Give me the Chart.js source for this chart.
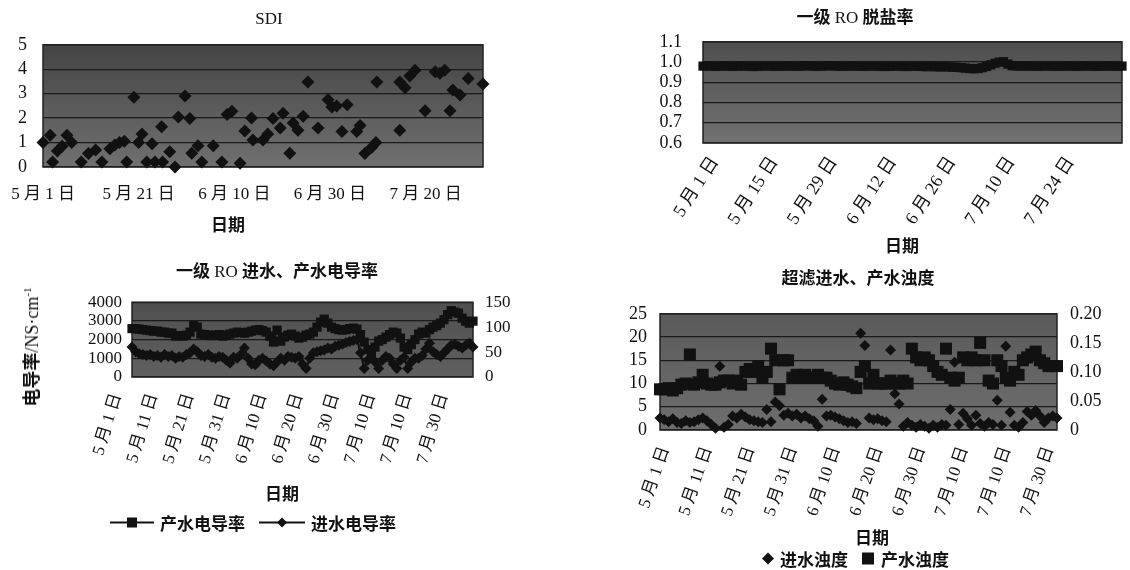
<!DOCTYPE html>
<html><head><meta charset="utf-8">
<script src="https://cdn.jsdelivr.net/npm/chart.js@4/dist/chart.umd.min.js"></script>
<style>
body{margin:0;background:#fff;width:1130px;height:570px;position:relative;overflow:hidden;font-family:'Liberation Serif','Noto Sans CJK SC',serif;color:#111}
canvas{position:absolute}
.t{position:absolute;transform:translate(-50%,-50%);white-space:nowrap;font-size:17px;line-height:1}
.c{font-family:'Noto Sans CJK SC',sans-serif;font-weight:bold}
.lg{position:absolute;display:flex;align-items:center;white-space:nowrap;font-size:17px;transform:translateY(-50%)}
.lg svg{margin-right:6px}
</style></head><body>
<canvas id="c1" width="500" height="200" style="left:0;top:18px"></canvas>
<canvas id="c2" width="530" height="240" style="left:600px;top:10px"></canvas>
<canvas id="c3" width="540" height="200" style="left:0;top:280px"></canvas>
<canvas id="c4" width="530" height="235" style="left:600px;top:290px"></canvas>

<div class="t" style="left:269px;top:18px">SDI</div>
<div class="t" style="left:228px;top:224px"><span class="c">日期</span></div>
<div class="t" style="left:855px;top:16px"><span class="c">一级</span> RO <span class="c">脱盐率</span></div>
<div class="t" style="left:902px;top:245px"><span class="c">日期</span></div>
<div class="t" style="left:277px;top:270px"><span class="c">一级</span> RO <span class="c">进水、产水电导率</span></div>
<div class="t" style="left:282px;top:493px"><span class="c">日期</span></div>
<div class="t" style="left:31px;top:347px;font-size:18px;transform:translate(-50%,-50%) rotate(-90deg)"><span class="c">电导率</span>/NS·cm<sup style="font-size:11px">-1</sup></div>
<div class="t" style="left:858px;top:277px"><span class="c">超滤进水、产水浊度</span></div>
<div class="t" style="left:872px;top:537px"><span class="c">日期</span></div>

<div class="lg" style="left:110px;top:522px">
<svg width="44" height="14"><line x1="0" y1="7" x2="44" y2="7" stroke="#111" stroke-width="2"/><rect x="17" y="2" width="10" height="10" fill="#111"/></svg>
<span class="c">产水电导率</span>
<svg width="46" height="14" style="margin-left:14px"><line x1="0" y1="7" x2="46" y2="7" stroke="#111" stroke-width="2"/><polygon points="23,2 28,7 23,12 18,7" fill="#111"/></svg>
<span class="c">进水电导率</span>
</div>
<div class="lg" style="left:762px;top:558px">
<svg width="12" height="14"><polygon points="6,1 12,7 6,13 0,7" fill="#111"/></svg>
<span class="c">进水浊度</span>
<svg width="13" height="14" style="margin-left:14px"><rect x="0" y="1" width="12" height="12" fill="#111"/></svg>
<span class="c">产水浊度</span>
</div>

<script>
// ---------- SDI ----------
const sdiTickLabels = ['5 月 1 日','5 月 21 日','6 月 10 日','6 月 30 日','7 月 20 日'];
const sdiDays = [0,1.5,2,3,4,5,6,8,9.5,11,12.3,14,15,16,17,17.5,19,20,20.7,21.7,22.8,23.4,24.8,25,26.5,27.6,28.3,29.7,30.7,31.1,32.4,33.2,35.6,37.4,38.5,39.5,41.2,42.2,43.6,43.9,46,47,48.1,49.6,50.2,51.6,52.3,53.3,54.4,55.4,57.5,59.6,60.4,61.4,62.5,63.6,65.6,66.3,67.3,68.7,69.6,69.8,74.6,74.6,75.7,76.7,77.8,79.9,82,83,84,85.1,85.7,87.2,88.9,92];
const sdiValues = [1.0,1.3,0.2,0.65,0.85,1.3,1.0,0.2,0.55,0.7,0.2,0.75,0.9,1.0,1.05,0.2,2.85,1.0,1.35,0.2,0.95,0.2,1.65,0.2,0.62,0.0,2.05,2.9,1.98,0.56,0.87,0.2,0.87,0.2,2.15,2.28,0.15,1.47,2.0,1.1,1.1,1.35,1.98,1.6,2.2,0.56,1.8,1.5,2.08,3.48,1.6,2.75,2.45,2.5,1.45,2.55,1.45,1.7,0.55,0.8,1.0,3.48,1.5,3.48,3.24,3.72,3.96,2.3,3.9,3.84,3.96,2.3,3.15,2.95,3.62,3.4];

// ---------- RO salt rejection ----------
const rejTickLabels = ['5 月 1 日','5 月 15 日','5 月 29 日','6 月 12 日','6 月 26 日','7 月 10 日','7 月 24 日'];
const rejectionRate = [
0.98,0.981,0.98,0.979,0.98,0.981,0.98,0.979,0.98,0.981,
0.98,0.979,0.978,0.979,0.98,0.981,0.98,0.979,0.98,0.98,
0.981,0.98,0.979,0.98,0.982,0.981,0.98,0.979,0.98,0.981,
0.982,0.981,0.98,0.979,0.98,0.981,0.98,0.98,0.979,0.98,
0.981,0.98,0.979,0.978,0.979,0.98,0.98,0.979,0.978,0.979,
0.98,0.979,0.978,0.977,0.978,0.977,0.976,0.977,0.976,0.975,
0.974,0.972,0.97,0.968,0.967,0.968,0.972,0.978,0.986,0.994,
1.0,1.002,0.99,0.982,0.981,0.98,0.981,0.98,0.98,0.979,
0.98,0.981,0.98,0.98,0.979,0.98,0.981,0.98,0.979,0.98,
0.98,0.981,0.98,0.979,0.98,0.98,0.981,0.98,0.979,0.98];

// ---------- RO conductivity ----------
const condTickLabels = ['5 月 1 日','5 月 11 日','5 月 21 日','5 月 31 日','6 月 10 日','6 月 20 日','6 月 30 日','7 月 10 日','7 月 10 日','7 月 30 日'];
const permeateConductivity = [97,97,96, 95,94,93,92,92,90,90,88,88, 82,83,82,84, 90,103,100, 86,85,84,83,84,85,82,84,86, 88,90,89,88,90,92,94, 95,93,90,82, 70,94,72, 80,84,86,82, 78,80,84,86,90, 100,110,116,108, 100,97,95,94,95,97,98,96, 85,70, 55,48,60, 72,75,80,85, 90,88,78, 60,55,65,75, 86,90,88, 95,100,103,108, 115,125,133,130, 128,118,112,108,112];
const feedConductivity = [1600, 1350,1250,1200,1150,1200, 1100,1150,1050,1200,1100,1150, 1000,1100,1050,1200, 1300,1500,1350, 1150,1100,1200,1050,1000,1100,1050, 900,750,1050,1000,1200, 1550,1000,700,650, 900,1000,850,700,600,800, 1000,900,1100,1050,1000,1100, 700,450,1000, 1300,1350,1400,1450,1550,1500,1650, 1700,1750,1850,1900,1950,2000, 1300,450,900,1000,800,450,900,1100,1000,700,450,900,1050,450,800,1000,1000,1150, 1500,1800,1350,1200,1100, 1300,1500,1700,1750,1650, 1550,1700,1800,1600];

// ---------- UF turbidity ----------
const turbTickLabels = ['5 月 1 日','5 月 11 日','5 月 21 日','5 月 31 日','6 月 10 日','6 月 20 日','6 月 30 日','7 月 10 日','7 月 10 日','7 月 30 日'];
const feedTurbidity = [2.6,2.2,1.8,2.4,1.6,1.4,2.0,1.6,1.8,2.2,2.6,2.0,1.2, 0.4,13.7,0.6,1.2, 3.0,2.6,3.4,2.8,2.2,2.0,1.8,1.6, 4.4,1.8,6.0,5.2,3.2,3.6,3.0,3.4,2.6,3.0,2.4,2.0,0.8,6.6, 3.0,3.2,2.8,2.4,2.0,1.6,1.8,1.4, 20.8,18.2,2.6,2.2,2.4,2.0,1.8,17.2,7.8,5.6, 0.8,1.6,1.0,0.6,1.2,0.8,0.4,1.0,0.6,1.2,1.0, 4.4,14.6, 1.2,3.6,2.4,1.0,3.2,1.4,0.8,1.6,1.2, 6.4,1.0,18.0,3.8,1.0,0.6,1.6, 4.0,3.2,4.2,3.0,1.6,2.6,3.0,2.6];
const permeateTurbidity = [0.07,0.07,0.072,0.068,0.072,0.078, 0.08,0.13,0.078,0.082,0.095,0.08,0.078,0.078, 0.082,0.085,0.085,0.08,0.085,0.078, 0.1,0.105,0.1,0.11,0.09,0.1,0.14,0.12,0.07,0.12,0.12, 0.09,0.095,0.09,0.095,0.09,0.09,0.095,0.09,0.09,0.085, 0.08,0.078,0.082,0.078,0.075,0.072, 0.1,0.11,0.08,0.095,0.08,0.08, 0.08,0.085,0.08,0.08,0.085,0.08, 0.14,0.125,0.12,0.125,0.12,0.11,0.1,0.095, 0.14,0.09,0.085,0.09,0.125,0.12,0.125,0.12, 0.15,0.12,0.085,0.08,0.12,0.11, 0.09,0.085,0.1,0.095, 0.12,0.125,0.13,0.135,0.12,0.115,0.11,0.11,0.11];

const FONT = "'Liberation Serif','Noto Sans CJK SC',serif";
const INK = '#111';

const frameBg = {
  id: 'frameBg',
  beforeDraw(chart, args, opts) {
    const {ctx, chartArea: a} = chart;
    const g = ctx.createLinearGradient(0, a.top, 0, a.bottom);
    g.addColorStop(0, opts.top); g.addColorStop(1, opts.bottom);
    ctx.save();
    ctx.fillStyle = g;
    ctx.fillRect(a.left, a.top, a.right - a.left, a.bottom - a.top);
    ctx.restore();
  },
  beforeDatasetsDraw(chart) {
    const {ctx, chartArea: a} = chart;
    ctx.save();
    ctx.strokeStyle = '#222'; ctx.lineWidth = 1.5;
    ctx.strokeRect(a.left, a.top, a.right - a.left, a.bottom - a.top);
    ctx.restore();
  }
};

function baseOpts(pad, bg) {
  return {
    responsive: false, animation: false, events: [],
    layout: {padding: pad},
    plugins: {legend: {display: false}, tooltip: {enabled: false}, frameBg: bg},
  };
}
function xAxis(max, step, labels, h, rot, pad, off, size) {
  return {
    type: 'linear', min: 0, max: max,
    afterFit: s => { s.height = h; },
    grid: {display: false}, border: {display: false},
    ticks: {stepSize: step, includeBounds: false, autoSkip: false, minRotation: rot, maxRotation: rot,
      padding: pad, labelOffset: off, color: INK, font: {family: FONT, size: size},
      callback: v => labels[Math.round(v / step)] }
  };
}
function yAxis(min, max, step, w, pad, size, pos, grid, fmt) {
  return {
    type: 'linear', min: min, max: max, position: pos,
    afterFit: s => { s.width = w; },
    grid: grid ? {color: '#1a1a1a', lineWidth: 1.3, drawTicks: false} : {display: false, drawTicks: false},
    border: {display: false},
    ticks: {stepSize: step, autoSkip: false, padding: pad, color: INK, font: {family: FONT, size: size},
      callback: fmt || (v => String(Math.round(v)))}
  };
}

// Chart 1: SDI
new Chart(document.getElementById('c1'), {
  type: 'scatter',
  data: {datasets: [{label: 'SDI', data: sdiDays.map((d, i) => ({x: d, y: sdiValues[i]})),
    pointStyle: 'rectRot', pointRadius: 6.5, backgroundColor: INK, borderColor: INK, borderWidth: 0, clip: false}]},
  options: Object.assign(baseOpts({top: 12, right: 17, left: 0, bottom: 0}, {top: '#444', bottom: '#707070'}), {
    scales: {
      x: xAxis(92, 20, sdiTickLabels, 51, 0, 9, 0, 17),
      y: yAxis(0, 5, 1, 43, 16, 18, 'left', true)
    }
  }),
  plugins: [frameBg]
});

// Chart 2: RO salt rejection
new Chart(document.getElementById('c2'), {
  type: 'line',
  data: {datasets: [{label: '一级RO脱盐率', data: rejectionRate.map((v, i) => ({x: i, y: v})),
    borderColor: INK, borderWidth: 7, pointStyle: 'rect', pointRadius: 6.5, pointBackgroundColor: INK,
    pointBorderWidth: 0, tension: 0, clip: false}]},
  options: Object.assign(baseOpts({top: 22, right: 8, left: 0, bottom: 0}, {top: '#4e4e4e', bottom: '#727272'}), {
    scales: {
      x: xAxis(99, 14, rejTickLabels, 107, 57, 2, 12, 18),
      y: yAxis(0.6, 1.1, 0.1, 103, 21, 18, 'left', true, v => v.toFixed(1))
    }
  }),
  plugins: [frameBg]
});

// Chart 3: RO conductivity
new Chart(document.getElementById('c3'), {
  type: 'line',
  data: {datasets: [
    {label: '产水电导率', yAxisID: 'y1', data: permeateConductivity.map((v, i) => ({x: i, y: v})),
      borderColor: INK, borderWidth: 2, pointStyle: 'rect', pointRadius: 6.5, pointBackgroundColor: INK,
      pointBorderWidth: 0, tension: 0, clip: false},
    {label: '进水电导率', yAxisID: 'y', data: feedConductivity.map((v, i) => ({x: i, y: v})),
      borderColor: INK, borderWidth: 2, pointStyle: 'rectRot', pointRadius: 5.5, pointBackgroundColor: INK,
      pointBorderWidth: 0, tension: 0, clip: false}
  ]},
  options: Object.assign(baseOpts({top: 17, right: 0, left: 0, bottom: 0}, {top: '#4f4f4f', bottom: '#606060'}), {
    scales: {
      x: xAxis(94, 10, condTickLabels, 103, 73, 6, -15, 17),
      y: yAxis(0, 4000, 1000, 132, 10, 17, 'left', true),
      y1: yAxis(0, 150, 50, 67, 12, 17, 'right', false)
    }
  }),
  plugins: [frameBg]
});

// Chart 4: UF turbidity
new Chart(document.getElementById('c4'), {
  type: 'scatter',
  data: {datasets: [
    {label: '进水浊度', yAxisID: 'y', data: feedTurbidity.map((v, i) => ({x: i, y: v})),
      pointStyle: 'rectRot', pointRadius: 5.5, backgroundColor: INK, borderColor: INK, borderWidth: 0, clip: false},
    {label: '产水浊度', yAxisID: 'y1', data: permeateTurbidity.map((v, i) => ({x: i, y: v})),
      pointStyle: 'rect', pointRadius: 8.5, backgroundColor: INK, borderColor: INK, borderWidth: 0, clip: false}
  ]},
  options: Object.assign(baseOpts({top: 15, right: 0, left: 0, bottom: 0}, {top: '#5a5a5a', bottom: '#6e6e6e'}), {
    scales: {
      x: xAxis(93, 10, turbTickLabels, 95, 71, 6, 5, 17),
      y: yAxis(0, 25, 5, 60, 13, 18, 'left', true),
      y1: yAxis(0, 0.2, 0.05, 73, 13, 18, 'right', false, v => v === 0 ? '0' : v.toFixed(2))
    }
  }),
  plugins: [frameBg]
});
</script>
</body></html>
